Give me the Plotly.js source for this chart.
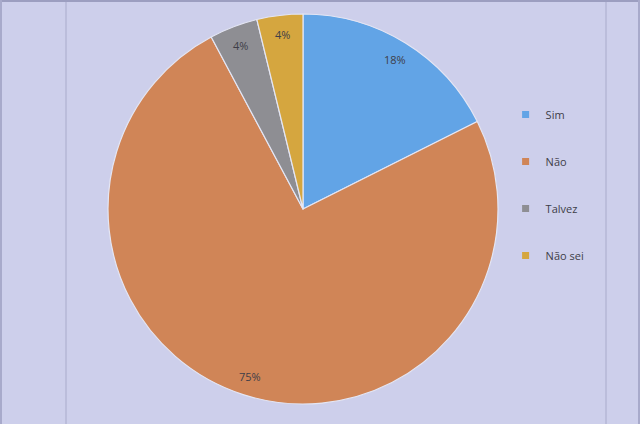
<!DOCTYPE html>
<html>
<head>
<meta charset="utf-8">
<script src="https://cdn.plot.ly/plotly-3.0.1.min.js"></script>
<style>html,body{margin:0;padding:0;background:#cdcfeb;}</style>
</head>
<body>
<div id="chart" style="width:640px;height:424px;"></div>
<script>
const labels = ["Sim", "Não", "Talvez", "Não sei"];
const values = [17.6, 74.6, 4.0, 3.8];
const colors = ["#62a4e6", "#d08557", "#8e8e93", "#d5a63f"];

const W = 640, H = 424;
const dom = {x: [108 / W, 498 / W], y: [20 / H, 410 / H]};
const cx = (dom.x[0] + dom.x[1]) / 2, cy = (dom.y[0] + dom.y[1]) / 2;
const R = 195;

const total = values.reduce((a, b) => a + b, 0);
const annotations = [];
let cum = 0;
values.forEach((v, i) => {
  const th = 2 * Math.PI * (cum + v / 2) / total;
  cum += v;
  const r = 0.9 * R;
  annotations.push({
    xref: "paper", yref: "paper",
    x: cx + r * Math.sin(th) / W,
    y: cy + r * Math.cos(th) / H,
    xanchor: "center", yanchor: "middle",
    text: Math.round(v / total * 100) + "%",
    showarrow: false,
    font: {family: "Open Sans, sans-serif", size: 11, color: "#3e3e48"}
  });
});

const traces = [{
  type: "pie",
  labels: labels,
  values: values,
  sort: false,
  direction: "clockwise",
  rotation: 0,
  marker: {colors: colors, line: {color: "#e4e6f4", width: 1.2}},
  textinfo: "none",
  hoverinfo: "label+percent",
  showlegend: false,
  domain: dom
}];
labels.forEach((l, i) => {
  traces.push({
    type: "scatter", mode: "markers",
    x: [null], y: [null],
    name: l, legendgroup: "g" + i,
    marker: {symbol: "square", size: 7, color: colors[i]},
    showlegend: true, hoverinfo: "skip"
  });
});

const layout = {
  width: W, height: H,
  margin: {l: 0, r: 0, t: 0, b: 0},
  paper_bgcolor: "#cdcfeb",
  plot_bgcolor: "rgba(0,0,0,0)",
  xaxis: {visible: false, domain: [0, 1]},
  yaxis: {visible: false, domain: [0, 1]},
  showlegend: true,
  legend: {
    x: 0.79, y: 0.764, xanchor: "left", yanchor: "top",
    bgcolor: "rgba(0,0,0,0)",
    font: {family: "Open Sans, sans-serif", size: 11, color: "#3e3e48"},
    tracegroupgap: 28,
    itemwidth: 30
  },
  annotations: annotations,
  shapes: [
    {type: "line", xref: "paper", yref: "paper", x0: 66 / W, x1: 66 / W, y0: 0, y1: 1, line: {color: "#b5b7d6", width: 1.5}},
    {type: "line", xref: "paper", yref: "paper", x0: 606 / W, x1: 606 / W, y0: 0, y1: 1, line: {color: "#b5b7d6", width: 1.5}},
    {type: "line", xref: "paper", yref: "paper", x0: 0, x1: 1, y0: 1, y1: 1, line: {color: "#9c9ec0", width: 4}},
    {type: "line", xref: "paper", yref: "paper", x0: 0, x1: 0, y0: 0, y1: 1, line: {color: "#a8aacb", width: 4}},
    {type: "line", xref: "paper", yref: "paper", x0: 1, x1: 1, y0: 0, y1: 1, line: {color: "#a8aacb", width: 4}}
  ]
};

Plotly.newPlot("chart", traces, layout, {displayModeBar: false, staticPlot: true});
</script>
</body>
</html>
